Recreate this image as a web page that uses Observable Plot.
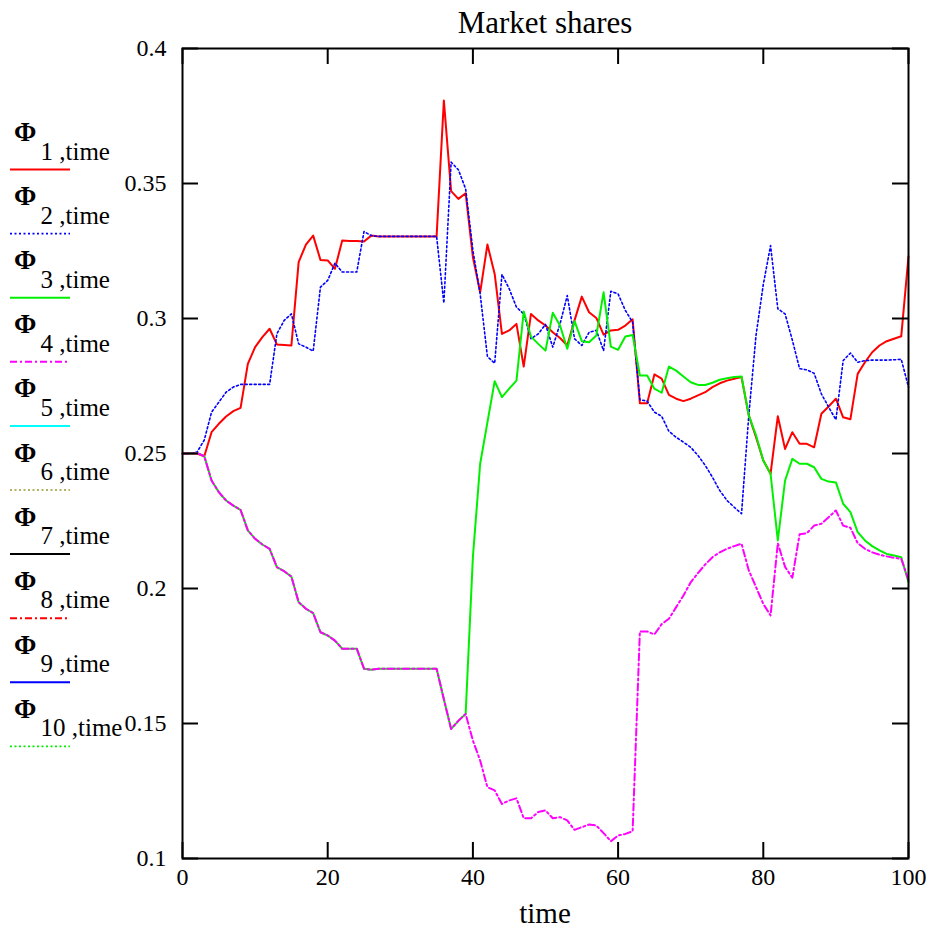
<!DOCTYPE html>
<html>
<head>
<meta charset="utf-8">
<script src="https://cdn.jsdelivr.net/npm/d3@7"></script>
<script src="https://cdn.jsdelivr.net/npm/@observablehq/plot@0.6"></script>
<style>
  html, body { margin: 0; padding: 0; background: #fff; }
  #wrap { position: relative; width: 936px; height: 931px; font-family: "Liberation Serif", "DejaVu Serif", serif; }
  #title { position: absolute; left: 182px; width: 726px; top: 7px; text-align: center; font-size: 31px; line-height: 31px; color: #000; }
  #xlabel { position: absolute; left: 182px; width: 726px; top: 899px; text-align: center; font-size: 29px; line-height: 29px; color: #000; }
  #legend { position: absolute; left: 0; top: 0; }
  #legend text { font-family: "Liberation Serif", "DejaVu Serif", serif; }
</style>
</head>
<body>
<div id="wrap">
  <div id="chart"></div>
  <div id="title">Market shares</div>
  <div id="xlabel">time</div>
  <svg id="legend" width="135" height="780"></svg>
</div>
<script>
// ---- data ----
const time = [0,1,2,3,4,5,6,7,8,9,10,11,12,13,14,15,16,17,18,19,20,21,22,23,24,25,26,27,28,29,30,31,32,33,34,35,36,37,38,39,40,41,42,43,44,45,46,47,48,49,50,51,52,53,54,55,56,57,58,59,60,61,62,63,64,65,66,67,68,69,70,71,72,73,74,75,76,77,78,79,80,81,82,83,84,85,86,87,88,89,90,91,92,93,94,95,96,97,98,99,100];

const phi1 = [0.25,0.25,0.25,0.249,0.2579,0.261,0.2637,0.2657,0.2669,0.2832,0.2894,0.2931,0.2962,0.2904,0.2902,0.2900,0.3209,0.3274,0.3307,0.3217,0.3215,0.3184,0.3289,0.3287,0.3287,0.3285,0.3307,0.3304,0.3304,0.3304,0.3304,0.3304,0.3304,0.3304,0.3304,0.3304,0.3807,0.3472,0.3443,0.3464,0.3227,0.3097,0.3274,0.3165,0.2943,0.2956,0.2980,0.2822,0.3017,0.2993,0.2974,0.2949,0.2928,0.2900,0.2993,0.3081,0.3023,0.3002,0.2940,0.2956,0.2958,0.2974,0.2997,0.2686,0.2686,0.2793,0.2777,0.2717,0.2703,0.2694,0.2703,0.2715,0.2727,0.2746,0.2760,0.2770,0.2777,0.2783,0.2641,0.2560,0.2474,0.2425,0.2638,0.2517,0.2579,0.2536,0.2536,0.2523,0.2647,0.2674,0.2703,0.2634,0.2627,0.2795,0.2838,0.2875,0.2900,0.2916,0.2925,0.2934,0.3230];

const phi2 = [0.25,0.25,0.2505,0.255,0.2653,0.269,0.2727,0.2746,0.2756,0.2756,0.2756,0.2756,0.2756,0.2943,0.2993,0.3017,0.2906,0.2894,0.2879,0.3116,0.3141,0.3205,0.3172,0.3172,0.3172,0.3322,0.3307,0.3304,0.3304,0.3304,0.3304,0.3304,0.3304,0.3304,0.3304,0.3304,0.3057,0.3579,0.3551,0.3480,0.3252,0.3091,0.2859,0.2834,0.3163,0.3110,0.3042,0.3017,0.2925,0.2943,0.2978,0.2894,0.2980,0.3085,0.2925,0.2900,0.2949,0.2956,0.2881,0.3101,0.3091,0.3030,0.2986,0.2699,0.2694,0.2653,0.2638,0.2582,0.2560,0.2542,0.2523,0.2493,0.2456,0.2412,0.2363,0.2326,0.2301,0.2277,0.2641,0.2938,0.3126,0.3270,0.3036,0.3017,0.2920,0.2814,0.2810,0.2797,0.2721,0.2672,0.2625,0.2844,0.2872,0.2838,0.2844,0.2846,0.2846,0.2846,0.2847,0.2849,0.2746];

const phi3 = [0.25,0.25,0.2502,0.249,0.24,0.2357,0.2326,0.2307,0.2291,0.2215,0.2184,0.2163,0.2147,0.2079,0.2064,0.2044,0.1949,0.1925,0.1909,0.1838,0.1826,0.1807,0.1777,0.1777,0.1777,0.1703,0.1699,0.1703,0.1703,0.1703,0.1703,0.1703,0.1703,0.1703,0.1703,0.1703,0.159,0.148,0.151,0.1535,0.2117,0.2462,0.2615,0.2768,0.2709,0.2740,0.2770,0.3026,0.2933,0.2906,0.2881,0.3021,0.2974,0.2888,0.2990,0.2916,0.2912,0.2937,0.3097,0.2896,0.2884,0.2933,0.2939,0.2789,0.2789,0.2740,0.2725,0.2822,0.2807,0.2785,0.2764,0.2754,0.2754,0.2762,0.2773,0.2779,0.2783,0.2785,0.2641,0.2567,0.2474,0.2425,0.2178,0.2400,0.2480,0.2462,0.2462,0.2449,0.2406,0.2396,0.2393,0.2314,0.2283,0.2209,0.2178,0.2157,0.2141,0.2128,0.2122,0.2116,0.2023];

const phi4 = [0.25,0.25,0.2502,0.249,0.24,0.2357,0.2326,0.2307,0.2291,0.2215,0.2184,0.2163,0.2147,0.2079,0.2064,0.2044,0.1949,0.1925,0.1909,0.1838,0.1826,0.1807,0.1777,0.1777,0.1777,0.1703,0.1699,0.1703,0.1703,0.1703,0.1703,0.1703,0.1703,0.1703,0.1703,0.1703,0.159,0.148,0.151,0.1535,0.1437,0.1363,0.1264,0.1252,0.1202,0.1215,0.1223,0.1149,0.1149,0.1172,0.1178,0.1149,0.1153,0.1141,0.1106,0.1116,0.1126,0.1122,0.1094,0.1064,0.1085,0.1091,0.1101,0.1841,0.1841,0.1830,0.1868,0.1888,0.1931,0.1974,0.2023,0.2057,0.2089,0.2116,0.2134,0.2147,0.2157,0.2166,0.2067,0.2005,0.1943,0.1900,0.2168,0.2080,0.2040,0.2201,0.2205,0.2233,0.2240,0.2264,0.2289,0.2233,0.2225,0.2168,0.2147,0.2134,0.2125,0.2119,0.2114,0.2110,0.2031];

const seriesValues = [phi1, phi2, phi3, phi4];
const seriesColors = ["#ff0000", "#0000ff", "#00f000", "#ff00ff"];
const seriesDash = [null, "2,2.5", null, "7,3,2,3"];
const seriesWidth = [2, 1.6, 2, 2];

const legendIndex = ["1","2","3","4","5","6","7","8","9","10"];
const legendColors = ["#ff0000","#0000ff","#00f000","#ff00ff","#00ffff","#999933","#000000","#ff0000","#0000ff","#00f000"];
const legendDash = [null,"2,2.5",null,"7,3,2,3",null,"2,2.5",null,"7,3,2,3",null,"2,2.5"];

const xTicks = [0,20,40,60,80,100];
const yTicks = [0.1,0.15,0.2,0.25,0.3,0.35,0.4];

// ---- chart ----
const FONT = "'Liberation Serif', 'DejaVu Serif', serif";
const W = 936, H = 931, mL = 182, mR = 28, mT = 48, mB = 73;
const innerW = W - mL - mR, innerH = H - mT - mB;
const tickLen = 16;

const lineMarks = seriesValues.map((vals, i) => {
  const rows = time.map((t, j) => ({t, v: vals[j]}));
  return Plot.line(rows, {x: "t", y: "v", stroke: seriesColors[i], strokeWidth: seriesWidth[i],
    strokeDasharray: seriesDash[i] || undefined, strokeLinejoin: "round"});
});

const chart = Plot.plot({
  width: W, height: H,
  marginLeft: mL, marginRight: mR, marginTop: mT, marginBottom: mB,
  style: {fontFamily: FONT, fontSize: "24px", color: "#000", background: "#fff"},
  x: {domain: [0, 100]},
  y: {domain: [0.1, 0.4]},
  marks: [
    ...lineMarks,
    Plot.ruleX(xTicks, {x: d => d, insetTop: innerH - tickLen, stroke: "#000", strokeWidth: 2}),
    Plot.ruleX(xTicks, {x: d => d, insetBottom: innerH - tickLen, stroke: "#000", strokeWidth: 2}),
    Plot.ruleY(yTicks, {y: d => d, insetRight: innerW - tickLen, stroke: "#000", strokeWidth: 2}),
    Plot.ruleY(yTicks, {y: d => d, insetLeft: innerW - tickLen, stroke: "#000", strokeWidth: 2}),
    Plot.frame({stroke: "#000", strokeWidth: 2}),
    Plot.axisX({ticks: xTicks, tickSize: 0, tickPadding: 9, tickFormat: d => String(d), label: null, fontSize: 24, fontFamily: FONT}),
    Plot.axisY({ticks: yTicks, tickSize: 0, tickPadding: 16, tickFormat: d => String(d), label: null, fontSize: 24, fontFamily: FONT})
  ]
});
document.getElementById("chart").appendChild(chart);

// ---- legend ----
const ns = "http://www.w3.org/2000/svg";
const leg = document.getElementById("legend");
legendIndex.forEach((lab, i) => {
  const ly = 169.5 + i * 64.1;
  const phi = document.createElementNS(ns, "text");
  phi.setAttribute("x", 14); phi.setAttribute("y", ly - 28.5);
  phi.setAttribute("font-size", 27); phi.setAttribute("font-weight", "bold");
  phi.textContent = "\u03A6";
  leg.appendChild(phi);
  const sub = document.createElementNS(ns, "text");
  sub.setAttribute("x", 40.5); sub.setAttribute("y", ly - 10);
  sub.setAttribute("font-size", 25);
  sub.textContent = lab + " ,time";
  leg.appendChild(sub);
  const ln = document.createElementNS(ns, "line");
  ln.setAttribute("x1", 10); ln.setAttribute("x2", 70);
  ln.setAttribute("y1", ly); ln.setAttribute("y2", ly);
  ln.setAttribute("stroke", legendColors[i]);
  ln.setAttribute("stroke-width", legendDash[i] === "2,2.5" ? 1.6 : 2);
  if (legendDash[i]) ln.setAttribute("stroke-dasharray", legendDash[i]);
  leg.appendChild(ln);
});
</script>
</body>
</html>
